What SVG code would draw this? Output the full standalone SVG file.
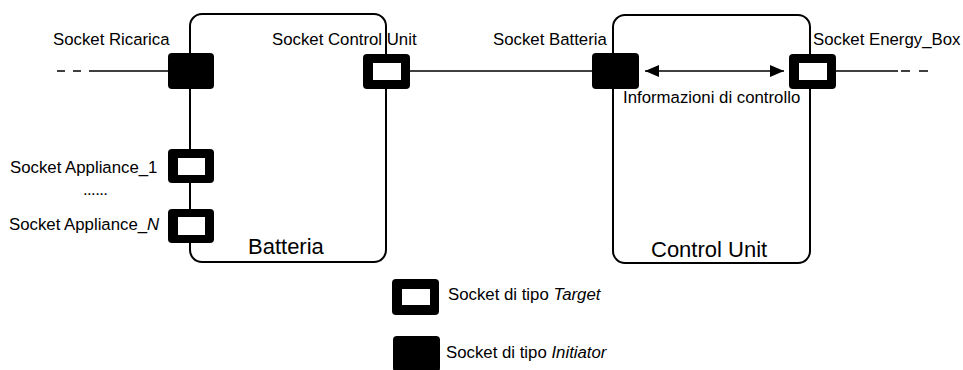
<svg xmlns="http://www.w3.org/2000/svg" width="963" height="370" viewBox="0 0 963 370">
<style>
.box{fill:none;stroke:#000;stroke-width:2}
.ln{stroke:#000;stroke-width:1.6;fill:none}
.lbl{font-family:"Liberation Sans",Arial,sans-serif;font-size:16.8px;fill:#000}
.ttl{font-family:"Liberation Sans",Arial,sans-serif;font-size:22px;fill:#000}
.init{fill:#000}
.tgt{fill:#000}
.hole{fill:#fff}
</style>
<defs>
<marker id="ah" viewBox="0 0 14 12" refX="14" refY="6" markerWidth="14" markerHeight="12" markerUnits="userSpaceOnUse" orient="auto-start-reverse">
<path d="M0,0 L14,6 L0,12 Z" fill="#000"/>
</marker>
</defs>
<g id="batteria">
<rect class="box" x="190" y="14" width="196" height="248" rx="12"/>
<text class="ttl" x="248" y="254">Batteria</text>
</g>
<g id="control-unit">
<rect class="box" x="613" y="15" width="197" height="248" rx="12"/>
<text class="ttl" x="651" y="257">Control Unit</text>
</g>
<g id="connectors">
<path class="ln" d="M57,71H65M73,71H81M89,71H168"/>
<path class="ln" d="M410,71H592"/>
<path class="ln" d="M836,71H898M901,71H910M919,71H928"/>
<path class="ln" d="M645,71H784" marker-start="url(#ah)" marker-end="url(#ah)"/>
</g>
<g id="socket-ricarica">
<rect class="init" x="168" y="53" width="46" height="36" rx="4"/>
<text class="lbl" x="53" y="45">Socket Ricarica</text>
</g>
<g id="socket-control-unit">
<rect class="tgt" x="363" y="54" width="47" height="35" rx="4"/>
<rect class="hole" x="373" y="63" width="28" height="17"/>
<text class="lbl" x="272" y="45">Socket Control Unit</text>
</g>
<g id="socket-appliance-1">
<rect class="tgt" x="168" y="149" width="46" height="34" rx="4"/>
<rect class="hole" x="178" y="158" width="27" height="17"/>
<text class="lbl" x="10" y="173">Socket Appliance_1</text>
</g>
<text class="lbl" x="83" y="195" letter-spacing="-0.6">......</text>
<g id="socket-appliance-n">
<rect class="tgt" x="168" y="209" width="46" height="34" rx="4"/>
<rect class="hole" x="178" y="217" width="27" height="18"/>
<text class="lbl" x="9" y="230">Socket Appliance_<tspan font-style="italic">N</tspan></text>
</g>
<g id="socket-batteria">
<rect class="init" x="592" y="53" width="47" height="36" rx="4"/>
<text class="lbl" x="493" y="45">Socket Batteria</text>
</g>
<g id="socket-energy-box">
<rect class="tgt" x="789" y="54" width="47" height="35" rx="4"/>
<rect class="hole" x="799" y="63" width="28" height="17"/>
<text class="lbl" x="813" y="45">Socket Energy_Box</text>
</g>
<text class="lbl" x="623" y="103">Informazioni di controllo</text>
<g id="legend-target">
<rect class="tgt" x="392" y="279" width="47" height="36" rx="4"/>
<rect class="hole" x="402" y="289" width="28" height="16"/>
<text class="lbl" x="448" y="300">Socket di tipo <tspan font-style="italic">Target</tspan></text>
</g>
<g id="legend-initiator">
<rect class="init" x="393" y="336" width="47" height="36" rx="4"/>
<text class="lbl" x="446" y="358">Socket di tipo <tspan font-style="italic">Initiator</tspan></text>
</g>
</svg>
